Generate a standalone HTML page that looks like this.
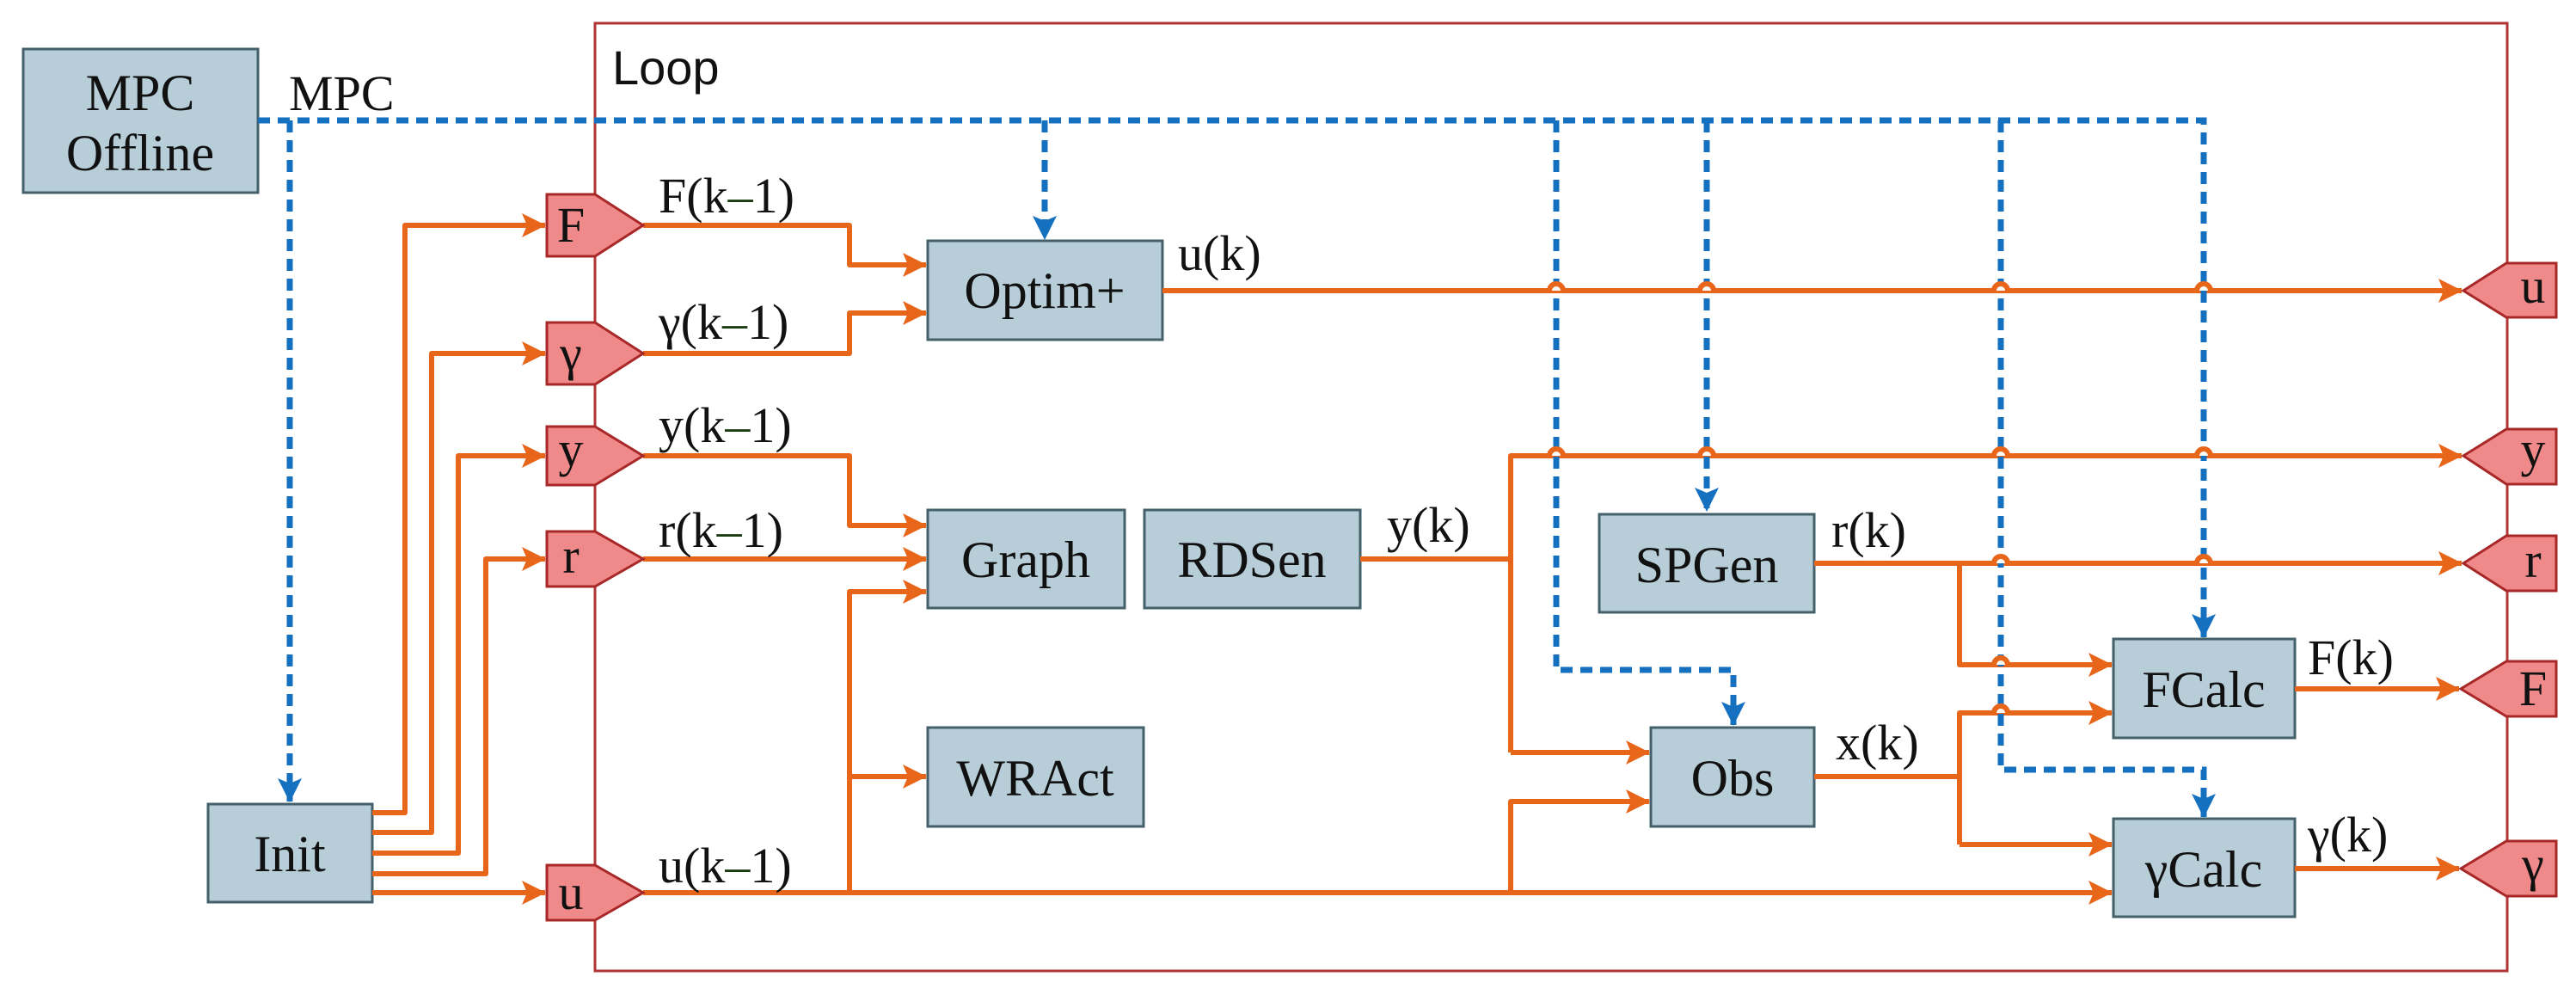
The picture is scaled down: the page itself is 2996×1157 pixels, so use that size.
<!DOCTYPE html>
<html><head><meta charset="utf-8"><style>
html,body{margin:0;padding:0;background:#fff}
svg{display:block}
text{font-family:"Liberation Serif","DejaVu Serif",serif;fill:#111}
</style></head><body>
<svg width="2996" height="1157" viewBox="0 0 2996 1157" xmlns="http://www.w3.org/2000/svg">
<defs>
<marker id="ao" markerUnits="userSpaceOnUse" markerWidth="30" markerHeight="30" refX="27" refY="15" orient="auto"><path d="M0,1 L28,15 L0,29 L6,15 Z" fill="#e8661a"/></marker>
<marker id="ab" markerUnits="userSpaceOnUse" markerWidth="30" markerHeight="30" refX="27" refY="15" orient="auto"><path d="M0,1 L28,15 L0,29 L6,15 Z" fill="#1570c0"/></marker>
</defs>
<!-- Loop box -->
<rect x="692" y="27" width="2224" height="1102" fill="none" stroke="#b03535" stroke-width="3"/>
<text x="712" y="98" style="font-family:'Liberation Sans',sans-serif;font-size:56px">Loop</text>

<!-- boxes -->
<g fill="#b7cdd8" stroke="#44606a" stroke-width="3">
<rect x="27" y="57" width="273" height="167"/>
<rect x="242" y="935" width="191" height="114"/>
<rect x="1079" y="280" width="273" height="115"/>
<rect x="1079" y="593" width="229" height="114"/>
<rect x="1331" y="593" width="251" height="114"/>
<rect x="1079" y="846" width="251" height="115"/>
<rect x="1860" y="598" width="250" height="114"/>
<rect x="1920" y="846" width="190" height="115"/>
<rect x="2458" y="743" width="211" height="115"/>
<rect x="2458" y="952" width="211" height="114"/>
</g>
<g font-size="60" text-anchor="middle">
<text x="163" y="128">MPC</text>
<text x="163" y="198">Offline</text>
<text x="337" y="1013">Init</text>
<text x="1215" y="358">Optim+</text>
<text x="1193" y="671">Graph</text>
<text x="1456" y="671">RDSen</text>
<text x="1204" y="925">WRAct</text>
<text x="1985" y="677">SPGen</text>
<text x="2015" y="925">Obs</text>
<text x="2563" y="822">FCalc</text>
<text x="2563" y="1031">γCalc</text>
</g>

<!-- orange connectors -->
<g fill="none" stroke="#e8661a" stroke-width="6" stroke-linejoin="round">
<path d="M433,945 H471 V262 H634" marker-end="url(#ao)"/>
<path d="M433,968 H502 V411 H634" marker-end="url(#ao)"/>
<path d="M433,992 H533 V530 H634" marker-end="url(#ao)"/>
<path d="M433,1016 H565 V650 H634" marker-end="url(#ao)"/>
<path d="M433,1038 H634" marker-end="url(#ao)"/>
<path d="M748,262 H988 V308 H1077" marker-end="url(#ao)"/>
<path d="M748,411 H988 V364 H1077" marker-end="url(#ao)"/>
<path d="M748,530 H988 V611 H1077" marker-end="url(#ao)"/>
<path d="M748,650 H1077" marker-end="url(#ao)"/>
<path d="M748,1038 H2456" marker-end="url(#ao)"/>
<path d="M988,1038 V688 H1077" marker-end="url(#ao)"/>
<path d="M988,903 H1077" marker-end="url(#ao)"/>
<path d="M1352,338 H2863" marker-end="url(#ao)"/>
<path d="M1582,650 H1757"/>
<path d="M1757,875 V530 H2863" marker-end="url(#ao)"/>
<path d="M1757,875 H1918" marker-end="url(#ao)"/>
<path d="M1757,1038 V932 H1918" marker-end="url(#ao)"/>
<path d="M2110,655 H2863" marker-end="url(#ao)"/>
<path d="M2279,655 V773 H2456" marker-end="url(#ao)"/>
<path d="M2110,903 H2279"/>
<path d="M2279,982 V829 H2456" marker-end="url(#ao)"/>
<path d="M2279,982 H2456" marker-end="url(#ao)"/>
<path d="M2669,801 H2860" marker-end="url(#ao)"/>
<path d="M2669,1010 H2860" marker-end="url(#ao)"/>
</g>

<!-- blue dashed -->
<g fill="none" stroke="#1570c0" stroke-width="7" stroke-dasharray="14,9">
<path d="M300,140 H2563 V741" marker-end="url(#ab)"/>
<path d="M337,140 V932" marker-end="url(#ab)"/>
<path d="M1215,140 V278" marker-end="url(#ab)"/>
<path d="M1810,140 V779 H2016 V843" marker-end="url(#ab)"/>
<path d="M1985,140 V594" marker-end="url(#ab)"/>
<path d="M2327,140 V895 H2563 V950" marker-end="url(#ab)"/>
</g>

<!-- bumps -->
<g fill="#fff" stroke="#e8661a" stroke-width="6">
<path d="M1802,338 A8,8 0 0 1 1818,338"/><path d="M1977,338 A8,8 0 0 1 1993,338"/>
<path d="M2319,338 A8,8 0 0 1 2335,338"/><path d="M2555,338 A8,8 0 0 1 2571,338"/>
<path d="M1802,530 A8,8 0 0 1 1818,530"/><path d="M1977,530 A8,8 0 0 1 1993,530"/>
<path d="M2319,530 A8,8 0 0 1 2335,530"/><path d="M2555,530 A8,8 0 0 1 2571,530"/>
<path d="M2319,655 A8,8 0 0 1 2335,655"/><path d="M2555,655 A8,8 0 0 1 2571,655"/>
<path d="M2319,773 A8,8 0 0 1 2335,773"/><path d="M2319,829 A8,8 0 0 1 2335,829"/>
</g>

<!-- tags -->
<g fill="#f08a8a" stroke="#a82828" stroke-width="3">
<polygon points="636,226 692,226 748,262 692,298 636,298"/>
<polygon points="636,375 692,375 748,411 692,447 636,447"/>
<polygon points="636,496 692,496 748,530 692,564 636,564"/>
<polygon points="636,618 692,618 748,650 692,682 636,682"/>
<polygon points="636,1006 692,1006 748,1038 692,1070 636,1070"/>
<polygon points="2973,306 2915,306 2865,338 2915,369 2973,369"/>
<polygon points="2973,499 2915,499 2865,530 2915,563 2973,563"/>
<polygon points="2973,623 2915,623 2865,655 2915,687 2973,687"/>
<polygon points="2973,769 2915,769 2862,801 2915,833 2973,833"/>
<polygon points="2973,978 2915,978 2862,1010 2915,1042 2973,1042"/>
</g>
<g font-size="58" text-anchor="middle">
<text x="664" y="281">F</text>
<text x="664" y="430">γ</text>
<text x="664" y="542">y</text>
<text x="664" y="666">r</text>
<text x="664" y="1057">u</text>
<text x="2946" y="352">u</text>
<text x="2946" y="542">y</text>
<text x="2946" y="671">r</text>
<text x="2946" y="820">F</text>
<text x="2946" y="1024">γ</text>
</g>

<!-- labels -->
<g font-size="58">
<text x="336" y="128">MPC</text>
<text x="766" y="247">F(k<tspan fill="#1a3a10">–</tspan>1)</text>
<text x="766" y="394">γ(k<tspan fill="#1a3a10">–</tspan>1)</text>
<text x="766" y="514">y(k<tspan fill="#1a3a10">–</tspan>1)</text>
<text x="766" y="636">r(k<tspan fill="#1a3a10">–</tspan>1)</text>
<text x="766" y="1026">u(k<tspan fill="#1a3a10">–</tspan>1)</text>
<text x="1370" y="314">u(k)</text>
<text x="1613" y="630">y(k)</text>
<text x="2130" y="636">r(k)</text>
<text x="2135" y="883">x(k)</text>
<text x="2684" y="784">F(k)</text>
<text x="2684" y="990">γ(k)</text>
</g>
</svg>
</body></html>
